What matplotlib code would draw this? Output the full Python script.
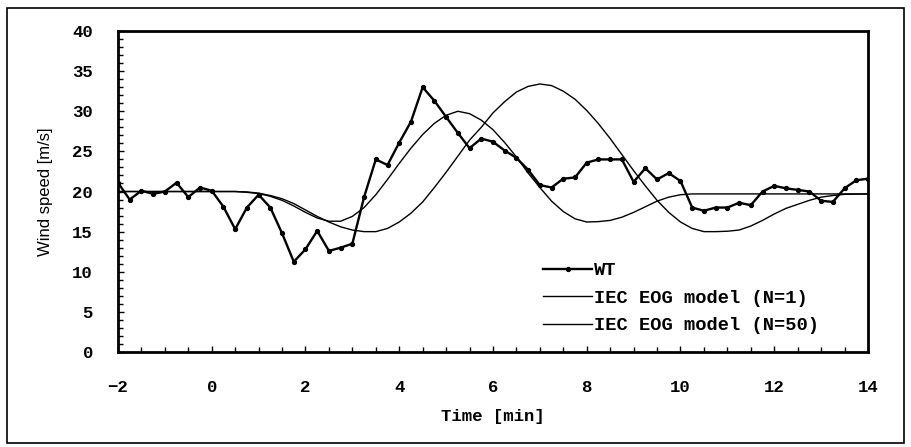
import numpy as np
import matplotlib
matplotlib.use('Agg')
import matplotlib.pyplot as plt
from matplotlib.patches import Rectangle
from matplotlib.ticker import MultipleLocator

# Measured wind speed (WT), one sample every 15 s
wt_time = np.arange(-2.0, 14.01, 0.25)
wt_speed = [21.1, 19.0, 20.1, 19.7, 20.0, 21.1, 19.3, 20.5, 20.1, 18.1,
            15.3, 18.0, 19.6, 18.0, 14.8, 11.25, 12.8, 15.1, 12.6, 13.0,
            13.5, 19.3, 24.0, 23.3, 26.1, 28.7, 33.0, 31.3, 29.3, 27.3,
            25.4, 26.6, 26.2, 25.1, 24.2, 22.7, 20.8, 20.5, 21.6, 21.75,
            23.6, 24.0, 24.0, 24.0, 21.2, 22.9, 21.5, 22.3, 21.3, 18.0,
            17.6, 18.0, 18.0, 18.6, 18.3, 20.0, 20.7, 20.4, 20.2, 20.0,
            18.85, 18.7, 20.4, 21.4, 21.6]

# IEC EOG model, N=1
eog1_time = [-2.0, 0.0, 0.5, 0.75, 1.0, 1.25, 1.5, 1.75, 2.0, 2.25, 2.5,
             2.75, 3.0, 3.25, 3.5, 3.75, 4.0, 4.25, 4.5, 4.75, 5.0, 5.25,
             5.5, 5.75, 6.0, 6.25, 6.5, 6.75, 7.0, 7.25, 7.5, 7.75, 8.0,
             8.25, 8.5, 8.75, 9.0, 9.25, 9.5, 9.75, 10.0, 10.25, 10.5, 14.0]
eog1_speed = [20.0, 20.0, 20.0, 19.9, 19.75, 19.4, 18.9, 18.2, 17.4, 16.7,
              16.3, 16.3, 16.9, 18.0, 19.6, 21.5, 23.5, 25.4, 27.1, 28.5,
              29.5, 30.0, 29.7, 28.9, 27.7, 26.1, 24.3, 22.3, 20.5, 18.8,
              17.5, 16.6, 16.2, 16.25, 16.4, 16.8, 17.4, 18.1, 18.8, 19.3,
              19.6, 19.7, 19.7, 19.7]

# IEC EOG model, N=50
eog50_time = [-2.0, 0.5, 0.75, 1.0, 1.25, 1.5, 1.75, 2.0, 2.25, 2.5, 2.75,
              3.0, 3.25, 3.5, 3.75, 4.0, 4.25, 4.5, 4.75, 5.0, 5.25, 5.5,
              5.75, 6.0, 6.25, 6.5, 6.75, 7.0, 7.25, 7.5, 7.75, 8.0, 8.25,
              8.5, 8.75, 9.0, 9.25, 9.5, 9.75, 10.0, 10.25, 10.5, 10.75,
              11.0, 11.25, 11.5, 11.75, 12.0, 12.25, 12.5, 12.75, 13.0,
              13.25, 13.5, 14.0]
eog50_speed = [20.0, 20.0, 19.95, 19.8, 19.5, 19.1, 18.5, 17.7, 16.9, 16.2,
               15.6, 15.2, 15.0, 15.0, 15.4, 16.2, 17.3, 18.7, 20.5, 22.4,
               24.4, 26.4, 28.0, 29.8, 31.2, 32.4, 33.1, 33.4, 33.2, 32.5,
               31.5, 30.1, 28.45, 26.6, 24.6, 22.6, 20.7, 18.9, 17.4, 16.2,
               15.4, 15.0, 15.0, 15.05, 15.2, 15.7, 16.4, 17.2, 17.9, 18.4,
               18.9, 19.3, 19.5, 19.65, 19.7]

x_ticks = [-2, 0, 2, 4, 6, 8, 10, 12, 14]
y_ticks = [0, 5, 10, 15, 20, 25, 30, 35, 40]

mono = 'Liberation Mono'

fig = plt.figure(figsize=(9.11, 4.47), dpi=100)
ax = fig.add_axes([0.1295, 0.2125, 0.8233, 0.7181])

ax.plot(wt_time, wt_speed, 'k-', lw=1.7, marker='o', ms=2.8, label='WT')
ax.plot(eog1_time, eog1_speed, 'k-', lw=1.0, label='IEC EOG model (N=1)')
ax.plot(eog50_time, eog50_speed, 'k-', lw=1.0, label='IEC EOG model (N=50)')

ax.set_xlim(-2, 14)
ax.set_ylim(0, 40)
ax.set_xticks(x_ticks)
ax.set_yticks(y_ticks)
ax.xaxis.set_minor_locator(MultipleLocator(0.5))
ax.yaxis.set_minor_locator(MultipleLocator(1))
ax.tick_params(which='both', direction='in', width=1.0, color='k')
ax.tick_params(which='major', length=4)
ax.tick_params(which='minor', length=3.5)
ax.tick_params(axis='x', which='major', pad=20)
ax.tick_params(axis='y', which='major', pad=18)
ax.set_xticklabels(['\u2212' + str(-t) if t < 0 else str(t) for t in x_ticks])
for lab in ax.get_xticklabels() + ax.get_yticklabels():
    lab.set_fontfamily(mono)
    lab.set_fontweight('bold')
    lab.set_fontsize(12.5)

for s in ax.spines.values():
    s.set_linewidth(2.0)

ax.set_xlabel('Time [min]', fontfamily=mono, fontweight='bold',
              fontsize=12.5, labelpad=10)
ax.set_ylabel('Wind speed [m/s]', fontfamily='Liberation Sans',
              fontsize=12, labelpad=14)

ax.legend(loc='center left', bbox_to_anchor=(0.567, 0.168), frameon=False,
          borderpad=0, borderaxespad=0, handlelength=2.6, handletextpad=0.1,
          labelspacing=0.55, numpoints=1,
          prop={'family': mono, 'weight': 'bold', 'size': 13.5})

# outer frame around the whole chart
fig.patches.append(Rectangle((0.0077, 0.0089), 0.9846, 0.973, fill=False,
                             edgecolor='k', lw=1.2, transform=fig.transFigure))

fig.savefig('out.png', dpi=100)
